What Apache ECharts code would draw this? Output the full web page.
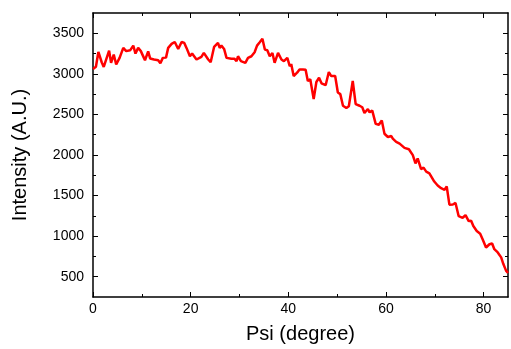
<!DOCTYPE html>
<html>
<head>
<meta charset="utf-8">
<script src="https://cdn.jsdelivr.net/npm/echarts@6/dist/echarts.min.js"></script>
<style>html,body{margin:0;padding:0;background:#fff}#c{width:511px;height:349px}</style>
</head>
<body>
<div id="c"></div>
<script>
// Psi (degree) and Intensity (A.U.)
var psi = [0.0,0.6,1.1,1.8,2.2,3.3,3.7,4.25,4.75,5.45,6.2,6.8,7.6,8.25,8.7,9.25,9.8,10.4,10.65,11.3,11.7,12.5,13.35,13.8,14.3,14.95,15.4,16.1,16.75,17.45,18.15,18.7,19.15,19.85,20.3,21.2,22.2,22.7,23.6,24.1,24.8,25.6,25.95,26.3,26.85,27.35,28.35,29.0,29.4,29.7,30.3,30.7,31.2,31.75,32.45,33.1,33.6,34.15,34.7,35.2,35.7,36.2,36.75,37.2,37.9,38.6,39.1,39.8,40.3,40.6,41.1,41.8,42.3,43.0,43.55,44.0,44.5,45.2,45.75,46.3,46.8,47.65,48.3,48.8,49.6,50.15,50.65,51.2,51.9,52.4,53.2,53.8,54.6,55.15,55.6,56.3,56.65,57.2,57.9,58.55,59.15,59.7,60.4,61.1,61.4,62.1,62.8,63.8,64.7,65.5,66.05,66.5,67.2,67.7,68.25,68.9,69.9,70.6,71.3,72.0,72.45,73.0,73.7,74.25,74.9,75.7,76.3,76.95,77.45,77.9,78.6,79.3,79.8,80.5,81.2,81.75,82.2,82.9,83.6,84.05,84.6,85.0];
var intensity = [3060,3088,3270,3140,3085,3285,3136,3238,3116,3197,3320,3280,3290,3348,3250,3320,3280,3200,3168,3278,3190,3177,3168,3130,3197,3200,3320,3369,3393,3307,3393,3381,3320,3217,3250,3177,3210,3258,3177,3144,3332,3381,3320,3348,3307,3197,3185,3185,3156,3217,3156,3168,3136,3197,3217,3266,3348,3389,3433,3299,3291,3217,3258,3136,3258,3177,3156,3197,3095,3120,2973,3014,3055,3055,3050,2912,2933,2689,2900,2953,2884,2860,3022,2973,2973,2770,2750,2607,2579,2600,2912,2628,2607,2588,2518,2567,2526,2547,2384,2372,2425,2262,2222,2234,2201,2161,2140,2088,2071,1998,1896,1957,1827,1844,1795,1774,1673,1624,1591,1571,1612,1388,1390,1409,1246,1226,1258,1185,1190,1124,1063,1030,961,860,900,909,839,799,738,656,575,545];

var xMajorTicks = [0, 20, 40, 60, 80];
var xMinorTicks = [10, 30, 50, 70];
var yMajorTicks = [500, 1000, 1500, 2000, 2500, 3000, 3500];
var yMinorTicks = [750, 1250, 1750, 2250, 2750, 3250];

var FONT = '"Liberation Sans", Arial, sans-serif';
var lineStyle = {color: '#000', width: 1.5};

function xAx(pos, ticks, len, showLine, showLabel, name) {
  var a = {
    type: 'value', position: pos, min: 0, max: 85,
    axisLine: {show: showLine, onZero: false, lineStyle: lineStyle},
    axisTick: {show: true, inside: true, length: len, customValues: ticks, lineStyle: {color: '#000', width: 1}},
    axisLabel: {show: showLabel, customValues: ticks, margin: 5, color: '#000', fontSize: 14, fontFamily: FONT,
      formatter: function (v) { return String(v); }},
    splitLine: {show: false}
  };
  if (name) {
    a.name = name; a.nameLocation = 'middle'; a.nameGap = 27;
    a.nameTextStyle = {color: '#000', fontSize: 20, fontFamily: FONT};
  }
  return a;
}
function yAx(pos, ticks, len, showLine, showLabel, name) {
  var a = {
    type: 'value', position: pos, min: 250, max: 3750,
    axisLine: {show: showLine, onZero: false, lineStyle: lineStyle},
    axisTick: {show: true, inside: true, length: len, customValues: ticks, lineStyle: {color: '#000', width: 1}},
    axisLabel: {show: showLabel, customValues: ticks, margin: 9, color: '#000', fontSize: 14, fontFamily: FONT,
      formatter: function (v) { return String(v); }},
    splitLine: {show: false}
  };
  if (name) {
    a.name = name; a.nameLocation = 'middle'; a.nameGap = 63;
    a.nameTextStyle = {color: '#000', fontSize: 20, fontFamily: FONT};
  }
  return a;
}

var data = psi.map(function (p, i) { return [p, intensity[i]]; });

var chart = echarts.init(document.getElementById('c'), null, {renderer: 'canvas'});
chart.setOption({
  animation: false,
  backgroundColor: '#fff',
  grid: {left: 93, right: 3, top: 13, bottom: 49, containLabel: false},
  xAxis: [
    xAx('bottom', xMajorTicks, 5, true, true, 'Psi (degree)'),
    xAx('bottom', xMinorTicks, 3, false, false),
    xAx('top', xMajorTicks, 5, true, false),
    xAx('top', xMinorTicks, 3, false, false)
  ],
  yAxis: [
    yAx('left', yMajorTicks, 5, true, true, 'Intensity (A.U.)'),
    yAx('left', yMinorTicks, 3, false, false),
    yAx('right', yMajorTicks, 5, true, false),
    yAx('right', yMinorTicks, 3, false, false)
  ],
  series: [{
    type: 'line', xAxisIndex: 0, yAxisIndex: 0, data: data,
    showSymbol: false, symbol: 'none', smooth: false,
    lineStyle: {color: '#ff0000', width: 2.5}
  }]
});
</script>
</body>
</html>
